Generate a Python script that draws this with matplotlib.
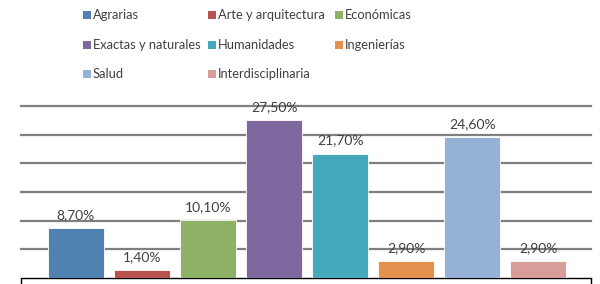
import matplotlib
matplotlib.use("Agg")
import matplotlib.pyplot as plt
from matplotlib.patches import Rectangle

# data
categories = ["Agrarias", "Arte y arquitectura", "Económicas",
              "Exactas y naturales", "Humanidades", "Ingenierías",
              "Salud", "Interdisciplinaria"]
values = [8.7, 1.4, 10.1, 27.5, 21.7, 2.9, 24.6, 2.9]
labels = ["8,70%", "1,40%", "10,10%", "27,50%", "21,70%", "2,90%", "24,60%", "2,90%"]
colors = ["#4f81b1", "#b9534f", "#8fb165", "#7f68a0", "#46a8bb",
          "#e4914d", "#95b1d6", "#d89c9a"]

plt.rcParams["font.family"] = ["Lato", "DejaVu Sans"]

fig = plt.figure(figsize=(6, 2.84), dpi=100)
ax = fig.add_axes([21 / 600, 6 / 284, 570 / 600, 172 / 284])

x = list(range(len(values)))
bars = ax.bar(x, values, width=0.85, color=colors, edgecolor="white",
              linewidth=0.6, zorder=3)
for b, lab in zip(bars, labels):
    ax.annotate(lab, (b.get_x() + b.get_width() / 2, b.get_height()),
                xytext=(0, 5), textcoords="offset points", ha="center",
                va="bottom", fontsize=10, color="#404040",
                annotation_clip=False, zorder=4)

ax.set_xlim(-0.833, 7.80)
ax.set_ylim(0, 30)
ax.set_yticks([5, 10, 15, 20, 25, 30])
ax.yaxis.grid(True, color="#7f7f7f", linewidth=1.6, zorder=0)
for gl in ax.get_ygridlines():
    gl.set_clip_on(False)
ax.set_axisbelow(True)
ax.tick_params(axis="y", left=False, labelleft=False)
ax.set_xticks([-0.833, 7.80])
ax.tick_params(axis="x", direction="out", length=5, width=1,
               color="black", labelbottom=False)
for s in ["left", "right", "top"]:
    ax.spines[s].set_visible(False)
ax.spines["bottom"].set_color("black")
ax.spines["bottom"].set_linewidth(1)

# legend, three columns
col_x = [83, 208, 335]
row_y = [15, 45, 74]
W, H = 600, 284
for i, (cat, c) in enumerate(zip(categories, colors)):
    cx = col_x[i % 3]
    cy = row_y[i // 3]
    fig.add_artist(Rectangle((cx / W, (H - cy - 4) / H), 8 / W, 8 / H,
                             transform=fig.transFigure, facecolor=c,
                             edgecolor="none"))
    fig.text((cx + 10) / W, (H - cy) / H, cat, fontsize=9.3,
             color="#404040", va="center", ha="left")

fig.savefig("out.png", dpi=100)
